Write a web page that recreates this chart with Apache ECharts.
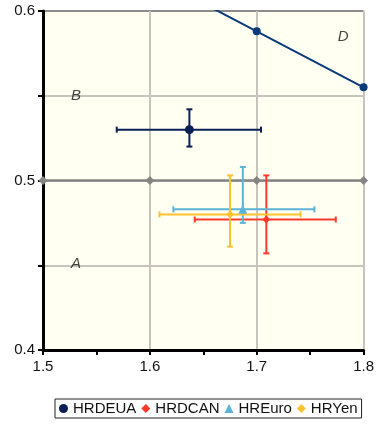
<!DOCTYPE html>
<html>
<head>
<meta charset="utf-8">
<script src="https://cdn.jsdelivr.net/npm/echarts@6/dist/echarts.min.js"></script>
<style>
  html, body { margin: 0; padding: 0; background: #fff; }
  #chart { width: 377px; height: 426px; }
</style>
</head>
<body>
<div id="chart"></div>
<script>
// error bar series
const seriesNames = ['HRDEUA', 'HRDCAN', 'HREuro', 'HRYen'];
const centerX = [1.637, 1.709, 1.687, 1.675];
const centerY = [0.530, 0.477, 0.483, 0.480];
const xLow = [1.569, 1.642, 1.622, 1.609];
const xHigh = [1.704, 1.774, 1.754, 1.741];
const yLow = [0.520, 0.457, 0.475, 0.461];
const yHigh = [0.542, 0.503, 0.508, 0.503];

// boundary line D (first point lies above the plot)
const dLineX = [1.6, 1.7, 1.8];
const dLineY = [0.621, 0.588, 0.555];

// horizontal reference line
const refX = [1.5, 1.6, 1.7, 1.8];
const refY = [0.5, 0.5, 0.5, 0.5];

// region labels
const regionNames = ['A', 'B', 'D'];
const regionX = [1.531, 1.531, 1.781];
const regionY = [0.451, 0.550, 0.585];

const colors = ['#0b1f57', '#ff3a2a', '#5bb3d7', '#ffc22e'];
const symbols = ['circle', 'diamond', 'triangle', 'diamond'];
const symbolSizes = [9, 8, 9, 8];

const font = 'Liberation Sans, Arial, sans-serif';

function errorBars(i) {
  return {
    type: 'custom',
    name: seriesNames[i] + '_err',
    clip: true,
    silent: true,
    z: 3,
    data: [[centerX[i], centerY[i], xLow[i], xHigh[i], yLow[i], yHigh[i]]],
    renderItem: function (params, api) {
      const x = api.value(0), y = api.value(1);
      const l = api.coord([api.value(2), y]);
      const r = api.coord([api.value(3), y]);
      const b = api.coord([x, api.value(4)]);
      const t = api.coord([x, api.value(5)]);
      const cap = 3;
      const style = { stroke: colors[i], lineWidth: 2 };
      const seg = (x1, y1, x2, y2) => ({ type: 'line', shape: { x1, y1, x2, y2 }, style });
      return {
        type: 'group',
        children: [
          seg(l[0], l[1], r[0], r[1]),
          seg(l[0], l[1] - cap, l[0], l[1] + cap),
          seg(r[0], r[1] - cap, r[0], r[1] + cap),
          seg(t[0], t[1], b[0], b[1]),
          seg(t[0] - cap, t[1], t[0] + cap, t[1]),
          seg(b[0] - cap, b[1], b[0] + cap, b[1])
        ]
      };
    }
  };
}

const series = [
  {
    type: 'line',
    name: 'ref',
    data: refX.map((x, k) => [x, refY[k]]),
    symbol: 'diamond',
    symbolSize: 9,
    lineStyle: { color: '#858585', width: 2.5 },
    itemStyle: { color: '#858585' },
    clip: false,
    z: 2,
    silent: true
  },
  {
    type: 'line',
    name: 'D',
    data: dLineX.map((x, k) => [x, dLineY[k]]),
    symbol: 'circle',
    symbolSize: 8,
    lineStyle: { color: '#0b3a7a', width: 2 },
    itemStyle: { color: '#0b3a7a' },
    clip: true,
    z: 2,
    silent: true
  },
  {
    type: 'scatter',
    name: 'labels',
    data: regionNames.map((n, k) => ({ name: n, value: [regionX[k], regionY[k]] })),
    symbolSize: 0,
    silent: true,
    label: {
      show: true,
      position: 'inside',
      formatter: p => p.name,
      fontStyle: 'italic',
      fontSize: 15,
      color: '#111',
      fontFamily: font
    }
  }
];

seriesNames.forEach((n, i) => {
  series.push(errorBars(i));
  series.push({
    type: 'scatter',
    name: n,
    data: [[centerX[i], centerY[i]]],
    symbol: symbols[i],
    symbolSize: symbolSizes[i],
    itemStyle: { color: colors[i], opacity: 1 },
    z: 4
  });
});

const option = {
  animation: false,
  backgroundColor: '#fff',
  textStyle: { fontFamily: font },
  grid: {
    left: 43, right: 9, top: 11, bottom: 76,
    show: true,
    backgroundColor: '#fffff2',
    borderWidth: 0
  },
  legend: {
    data: seriesNames.map((n, i) => ({ name: n, icon: symbols[i] })),
    left: 55,
    top: 399,
    padding: [2, 4],
    itemGap: 5,
    itemWidth: 9,
    itemHeight: 9,
    borderColor: '#222',
    borderWidth: 1,
    textStyle: { fontSize: 15, color: '#111', fontFamily: font }
  },
  xAxis: {
    type: 'value',
    min: 1.5,
    max: 1.8,
    interval: 0.1,
    axisLine: { show: true, onZero: false, lineStyle: { color: '#000', width: 3 } },
    axisTick: { show: true, length: 5, lineStyle: { color: '#000', width: 2 } },
    minorTick: { show: true, splitNumber: 2, length: 5, lineStyle: { color: '#000', width: 2 } },
    axisLabel: {
      fontSize: 15, color: '#111', margin: 9,
      formatter: v => v.toFixed(1)
    },
    splitLine: { show: true, lineStyle: { color: '#c6c4bc', width: 2 } }
  },
  yAxis: {
    type: 'value',
    min: 0.4,
    max: 0.6,
    interval: 0.05,
    axisLine: { show: true, onZero: false, lineStyle: { color: '#000', width: 3 } },
    axisTick: { show: true, length: 5, lineStyle: { color: '#000', width: 2 } },
    axisLabel: {
      fontSize: 15, color: '#111', margin: 8,
      formatter: v => (Math.round(v * 100) % 10 === 0 ? v.toFixed(1) : '')
    },
    splitLine: {
      show: true,
      lineStyle: {
        color: ['#c6c4bc', '#c6c4bc', '#c6c4bc', '#c6c4bc', '#8c8c8c'],
        width: 2
      }
    }
  },
  series: series
};

const chart = echarts.init(document.getElementById('chart'));
chart.setOption(option);
</script>
</body>
</html>
